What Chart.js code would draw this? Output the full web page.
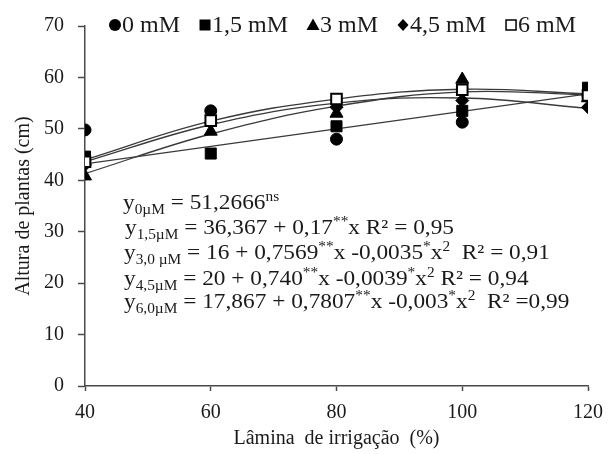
<!DOCTYPE html>
<html><head><meta charset="utf-8">
<style>html,body{margin:0;padding:0;background:#fff;}#wrap{width:613px;height:454px;position:relative;}</style>
<script src="https://cdn.jsdelivr.net/npm/chart.js@4.4.1/dist/chart.umd.min.js"></script>
</head><body><div id="wrap"><canvas id="c" width="613" height="454"></canvas></div>
<script>
// ---- data ----
const xLevels = [40, 60, 80, 100, 120];
const yTickValues = [0, 10, 20, 30, 40, 50, 60, 70];
const seriesNames = ['0 mM', '1,5 mM', '3 mM', '4,5 mM', '6 mM'];
const obs0  = [49.8, 53.5, 48.0, 51.3, 56.5];
const obs15 = [44.6, 45.2, 50.5, 53.5, 58.0];
const obs30 = [40.8, 49.5, 53.0, 59.6, 56.0];
const obs45 = [43.0, 51.2, 54.2, 55.5, 54.2];
const obs60 = [43.6, 51.6, 55.8, 57.6, 56.5];
// fitted trend lines, read at the irrigation levels
const fit15X = [40, 120];
const fit15  = [43.2, 56.8];
const fit30  = [41.3, 49.0, 54.4, 57.2, 56.6];
const fit45  = [43.6, 50.8, 55.0, 56.0, 54.0];
const fit60  = [44.0, 51.5, 55.8, 57.7, 56.8];
const equations = [
  [['y','n'],['0µM','sub'],[' = 51,2666','n'],['ns','sup']],
  [['y','n'],['1,5µM','sub'],[' = 36,367 + 0,17','n'],['**','sup'],['x R² = 0,95','n']],
  [['y','n'],['3,0 µM','sub'],[' = 16 + 0,7569','n'],['**','sup'],['x -0,0035','n'],['*','sup'],['x','n'],['2','sup'],['  R² = 0,91','n']],
  [['y','n'],['4,5µM','sub'],[' = 20 + 0,740','n'],['**','sup'],['x -0,0039','n'],['*','sup'],['x','n'],['2','sup'],[' R² = 0,94','n']],
  [['y','n'],['6,0µM','sub'],[' = 17,867 + 0,7807','n'],['**','sup'],['x -0,003','n'],['*','sup'],['x','n'],['2','sup'],['  R² =0,99','n']]
];

const pts = (xs, ys) => xs.map((x, i) => ({x, y: ys[i]}));
const SERIF = '"Liberation Serif", "Times New Roman", serif';
const INK = '#1a1a1a';
const AX = '#4a4a4a';

const markerStyles = [
  {pointStyle:'circle', pointRadius:6, bg:'#000'},
  {pointStyle:'rect', pointRadius:7.8, bg:'#000'},
  {pointStyle:'triangle', pointRadius:7.5, bg:'#000'},
  {pointStyle:'rectRot', pointRadius:6.5, bg:'#000'},
  {pointStyle:'rect', pointRadius:7.5, bg:'#fff'}
];
const obsAll = [obs0, obs15, obs30, obs45, obs60];

const datasets = [];
[4,0,2,3,1].forEach((k, idx) => {
  const m = markerStyles[k];
  datasets.push({
    label: seriesNames[k], data: pts(xLevels, obsAll[k]), showLine:false,
    pointStyle:m.pointStyle, pointRadius:m.pointRadius, pointHoverRadius:m.pointRadius,
    pointBackgroundColor:m.bg, pointBorderColor:'#000', pointBorderWidth: k===4?2:1,
    order: idx
  });
});
const lineDs = (data) => ({data, showLine:true, pointRadius:0, borderColor:'#3a3a3a', borderWidth:1.3, tension:0.4, fill:false, order:10});
datasets.push(lineDs(pts(fit15X, fit15)));
datasets.push(lineDs(pts(xLevels, fit30)));
datasets.push(lineDs(pts(xLevels, fit45)));
datasets.push(lineDs(pts(xLevels, fit60)));

function drawMarker(ctx, style, x, y) {
  ctx.save();
  ctx.fillStyle = '#000'; ctx.strokeStyle = '#000'; ctx.lineWidth = 1;
  ctx.beginPath();
  if (style === 0) { ctx.arc(x, y, 6, 0, Math.PI*2); ctx.fill(); }
  else if (style === 1) { ctx.rect(x-5.5, y-5.5, 11, 11); ctx.fill(); }
  else if (style === 2) { ctx.moveTo(x, y-6.5); ctx.lineTo(x+6.5, y+5); ctx.lineTo(x-6.5, y+5); ctx.closePath(); ctx.fill(); }
  else if (style === 3) { ctx.moveTo(x, y-6); ctx.lineTo(x+5.5, y); ctx.lineTo(x, y+6); ctx.lineTo(x-5.5, y); ctx.closePath(); ctx.fill(); }
  else { ctx.lineWidth = 1.5; ctx.rect(x-5, y-5, 10, 10); ctx.fillStyle='#fff'; ctx.fill(); ctx.stroke(); }
  ctx.restore();
}

const overlay = {
  id:'overlay',
  afterDraw(chart) {
    const ctx = chart.ctx;
    ctx.save();
    ctx.font = '24px ' + SERIF;
    ctx.fillStyle = INK; ctx.textBaseline = 'middle';
    let x = 109; const ly = 25;
    seriesNames.forEach((name, i) => {
      drawMarker(ctx, i, x + 6, ly);
      ctx.fillText(name, x + 13, ly + 1);
      x += 13 + ctx.measureText(name).width + 19;
    });
    ctx.restore();
    const baselines = [209, 234, 259, 285, 308];
    const starts = [123, 125, 124, 124, 124];
    const sx = 1.06;
    equations.forEach((line, li) => {
      ctx.save();
      ctx.translate(starts[li], baselines[li]);
      ctx.scale(sx, 1);
      ctx.fillStyle = INK; ctx.textBaseline = 'alphabetic';
      let cx = 0;
      line.forEach(([t, mode]) => {
        let dy = 0;
        if (mode === 'n') ctx.font = '22px ' + SERIF;
        else { ctx.font = '14.5px ' + SERIF; dy = mode === 'sub' ? 5 : -8.5; }
        ctx.fillText(t, cx, dy);
        cx += ctx.measureText(t).width;
      });
      ctx.restore();
    });
  }
};

new Chart(document.getElementById('c'), {
  type:'scatter',
  data:{datasets},
  options:{
    responsive:false, animation:false, devicePixelRatio:1,
    layout:{padding:{left:0, right:18, top:19, bottom:0}},
    plugins:{legend:{display:false}, tooltip:{enabled:false}},
    scales:{
      x:{
        type:'linear', min:40, max:120,
        afterBuildTicks(s){ s.ticks = xLevels.map(v => ({value:v})); },
        afterFit(s){ s.height = 68; },
        ticks:{font:{family:SERIF, size:20}, color:INK, padding:10},
        grid:{drawOnChartArea:false, drawTicks:true, tickLength:5, tickColor:AX, tickWidth:1.5},
        border:{display:true, color:AX, width:1.5},
        title:{display:true, text:'Lâmina  de irrigação  (%)', font:{family:SERIF, size:20}, color:INK, padding:{top:0, bottom:3}}
      },
      y:{
        min:0, max:70,
        afterBuildTicks(s){ s.ticks = yTickValues.map(v => ({value:v})); },
        afterFit(s){ s.width = 85; },
        ticks:{font:{family:SERIF, size:20}, color:INK, padding:14},
        grid:{drawOnChartArea:false, drawTicks:true, tickLength:7, tickColor:AX, tickWidth:1.5},
        border:{display:true, color:AX, width:1.5},
        title:{display:true, text:'Altura de plantas (cm)', font:{family:SERIF, size:20}, color:INK, padding:{top:12, bottom:0}}
      }
    }
  },
  plugins:[overlay]
});
</script></body></html>
